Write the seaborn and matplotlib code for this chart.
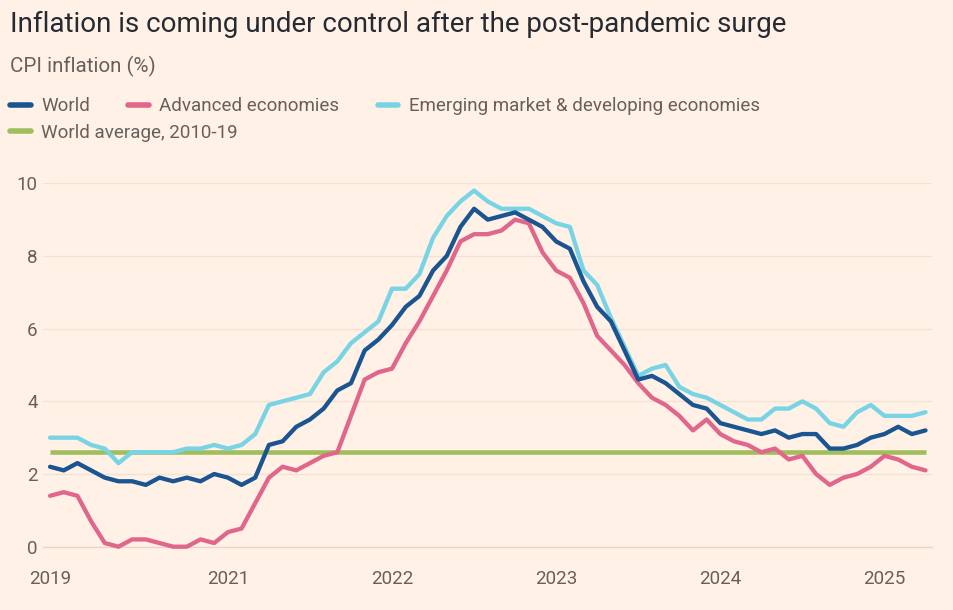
import numpy as np
import pandas as pd
import seaborn as sns
import matplotlib.pyplot as plt
from matplotlib.lines import Line2D

# monthly CPI inflation (%), Dec 2019 - Apr 2025
months = pd.period_range("2019-12", "2025-04", freq="M").strftime("%Y-%m").tolist()

world = [2.2, 2.1, 2.3, 2.1, 1.9, 1.8, 1.8, 1.7, 1.9, 1.8, 1.9, 1.8, 2.0,
         1.9, 1.7, 1.9, 2.8, 2.9, 3.3, 3.5, 3.8, 4.3, 4.5, 5.4, 5.7,
         6.1, 6.6, 6.9, 7.6, 8.0, 8.8, 9.3, 9.0, 9.1, 9.2, 9.0, 8.8,
         8.4, 8.2, 7.3, 6.6, 6.2, 5.4, 4.6, 4.7, 4.5, 4.2, 3.9, 3.8,
         3.4, 3.3, 3.2, 3.1, 3.2, 3.0, 3.1, 3.1, 2.7, 2.7, 2.8, 3.0,
         3.1, 3.3, 3.1, 3.2]
advanced = [1.4, 1.5, 1.4, 0.7, 0.1, 0.0, 0.2, 0.2, 0.1, 0.0, 0.0, 0.2, 0.1,
            0.4, 0.5, 1.2, 1.9, 2.2, 2.1, 2.3, 2.5, 2.6, 3.6, 4.6, 4.8,
            4.9, 5.6, 6.2, 6.9, 7.6, 8.4, 8.6, 8.6, 8.7, 9.0, 8.9, 8.1,
            7.6, 7.4, 6.7, 5.8, 5.4, 5.0, 4.5, 4.1, 3.9, 3.6, 3.2, 3.5,
            3.1, 2.9, 2.8, 2.6, 2.7, 2.4, 2.5, 2.0, 1.7, 1.9, 2.0, 2.2,
            2.5, 2.4, 2.2, 2.1]
emerging = [3.0, 3.0, 3.0, 2.8, 2.7, 2.3, 2.6, 2.6, 2.6, 2.6, 2.7, 2.7, 2.8,
            2.7, 2.8, 3.1, 3.9, 4.0, 4.1, 4.2, 4.8, 5.1, 5.6, 5.9, 6.2,
            7.1, 7.1, 7.5, 8.5, 9.1, 9.5, 9.8, 9.5, 9.3, 9.3, 9.3, 9.1,
            8.9, 8.8, 7.6, 7.2, 6.3, 5.5, 4.7, 4.9, 5.0, 4.4, 4.2, 4.1,
            3.9, 3.7, 3.5, 3.5, 3.8, 3.8, 4.0, 3.8, 3.4, 3.3, 3.7, 3.9,
            3.6, 3.6, 3.6, 3.7]
world_avg_2010_19 = 2.6

tick_months = ["2019-12", "2021-01", "2022-01", "2023-01", "2024-01", "2025-01"]
tick_labels = ["2019", "2021", "2022", "2023", "2024", "2025"]
y_ticks = [0, 2, 4, 6, 8, 10]

names = ["World", "Advanced economies", "Emerging market & developing economies"]
colors = {"World": "#1A5592",
          "Advanced economies": "#E0668C",
          "Emerging market & developing economies": "#78D4E4"}
avg_name = "World average, 2010-19"
avg_color = "#A0BE5C"

df = pd.DataFrame({"month": months, "World": world,
                   "Advanced economies": advanced,
                   "Emerging market & developing economies": emerging})
df["pos"] = np.arange(len(df))
long = df.melt(id_vars=["month", "pos"], value_vars=names,
               var_name="series", value_name="cpi")

bg = "#FFF1E5"
dark = "#262A33"
grey = "#66605C"

sns.set_theme(style="white")
plt.rcParams["font.family"] = ["Roboto", "DejaVu Sans"]

fig = plt.figure(figsize=(9.54, 6.1), dpi=100, facecolor=bg)
ax = fig.add_axes([0.0453, 0.1038, 0.932, 0.5957], facecolor=bg)

# world average line
ax.plot([df["pos"].iloc[0], df["pos"].iloc[-1]], [world_avg_2010_19] * 2,
        color=avg_color, lw=3.3, solid_capstyle="butt", zorder=2, clip_on=False)

sns.lineplot(data=long, x="pos", y="cpi", hue="series",
             hue_order=["Emerging market & developing economies", "Advanced economies", "World"],
             palette=colors, linewidth=3.1, legend=False, ax=ax, clip_on=False, zorder=3)

ax.set_xlim(-0.5, len(df) - 0.5)
ax.set_ylim(0, 10)
ax.set_xlabel("")
ax.set_ylabel("")

ax.set_yticks(y_ticks)
ax.set_yticklabels([str(v) for v in y_ticks])
ax.set_xticks([months.index(m) for m in tick_months])
ax.set_xticklabels(tick_labels)
ax.set_xticks(df["pos"], minor=True)

ax.grid(axis="y", color="#F1E2D5", lw=1)
ax.grid(axis="x", visible=False)
for s in ["top", "right", "left"]:
    ax.spines[s].set_visible(False)
ax.spines["bottom"].set_color("#E6D6C8")
ax.spines["bottom"].set_linewidth(0.9)

ax.tick_params(axis="y", length=0, pad=4, labelsize=13.5, labelcolor=grey)
ax.tick_params(axis="x", which="major", length=12, width=0.8, color="#E3D3C5",
               pad=5, labelsize=13.5, labelcolor=grey)
ax.tick_params(axis="x", which="minor", length=10, width=0.8, color="#E3D3C5")

# titles
fig.text(0.0105, 0.947, "Inflation is coming under control after the post-pandemic surge",
         fontsize=20, color=dark, ha="left", va="baseline")
fig.text(0.0105, 0.882, "CPI inflation (%)", fontsize=14.8, color=grey,
         ha="left", va="baseline")

# legend
h1 = [Line2D([0], [0], color=colors[n], lw=4) for n in names]
fig.legend(h1, names, loc="center left", bbox_to_anchor=(0.0105, 0.826),
           ncol=3, frameon=False, fontsize=13.5, labelcolor=grey,
           handlelength=1.1, handletextpad=0.55, columnspacing=2.05,
           borderpad=0, borderaxespad=0)
h2 = [Line2D([0], [0], color=avg_color, lw=4)]
fig.legend(h2, [avg_name], loc="center left", bbox_to_anchor=(0.0105, 0.782),
           frameon=False, fontsize=13.5, labelcolor=grey,
           handlelength=1.1, handletextpad=0.55, borderpad=0, borderaxespad=0)

fig.savefig("out.png", dpi=100, facecolor=bg)
